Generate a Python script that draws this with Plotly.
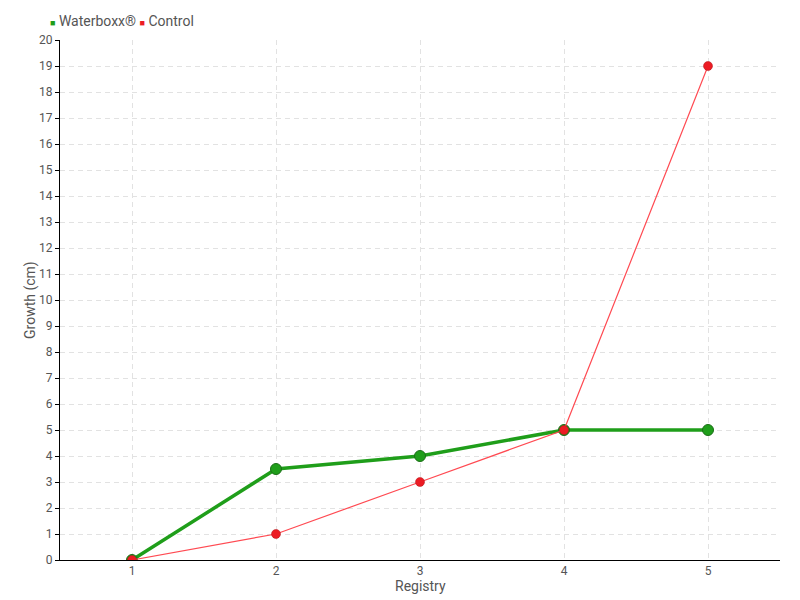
import plotly.graph_objects as go

registry = [1, 2, 3, 4, 5]
waterboxx = [0, 3.5, 4, 5, 5]
control = [0, 1, 3, 5, 19]
y_ticks = list(range(0, 21))
series_names = ["Waterboxx®", "Control"]
x_title = "Registry"
y_title = "Growth (cm)"

FONT = "Roboto, sans-serif"
GREEN = "#1f9e1a"
RED = "#ec1c24"
TEXT = "#555555"

fig = go.Figure()

fig.add_trace(go.Scatter(
    x=registry, y=waterboxx, mode="lines+markers", name=series_names[0],
    line=dict(color=GREEN, width=3.5),
    marker=dict(color=GREEN, size=11, line=dict(color="#1b6e17", width=1)),
))
fig.add_trace(go.Scatter(
    x=registry, y=control, mode="lines+markers", name=series_names[1],
    line=dict(color="#ff4a52", width=1.2),
    marker=dict(color=RED, size=9, line=dict(color="#b0141a", width=0.5)),
))

# compact legend with small squares, as in the original
legend_text = (
    f"<span style='color:{GREEN};font-size:9px'>■</span> {series_names[0]} "
    f"<span style='color:{RED};font-size:9px'>■</span> {series_names[1]}"
)
fig.add_annotation(text=legend_text, xref="paper", yref="paper", x=-0.017, y=1.0,
                   xanchor="left", yanchor="bottom", yshift=9, showarrow=False,
                   font=dict(size=14, color=TEXT, family=FONT))

# axis titles sit tight against the tick labels
fig.add_annotation(text=y_title, xref="paper", yref="paper", x=0, y=0.5, xshift=-30,
                   textangle=-90, xanchor="center", yanchor="middle", showarrow=False,
                   font=dict(size=14, color=TEXT, family=FONT))
fig.add_annotation(text=x_title, xref="paper", yref="paper", x=0.5, y=0, yshift=-26,
                   xanchor="center", yanchor="middle", showarrow=False,
                   font=dict(size=14, color=TEXT, family=FONT))

axis_common = dict(
    showline=True, linecolor="black", linewidth=1,
    showgrid=True, gridcolor="#e2e2e2", griddash="5px,4px", gridwidth=1,
    tickcolor="black", zeroline=False,
)

fig.update_xaxes(range=[0.5, 5.5], tickvals=registry, ticks="",
                 tickfont=dict(size=12, color=TEXT, family=FONT), **axis_common)
fig.update_yaxes(range=[0, 20], tickvals=y_ticks, ticks="outside", ticklen=4,
                 tickfont=dict(size=12, color=TEXT, family=FONT), **axis_common)

# page body has an 8px margin, so shift the margins to land the plot at 60..780 x 40..560
fig.update_layout(
    width=800, height=600,
    margin=dict(l=52, r=28, t=32, b=48, autoexpand=False),
    plot_bgcolor="white", paper_bgcolor="white",
    font=dict(family=FONT, color=TEXT),
    showlegend=False,
)

fig.write_html("out.html")
